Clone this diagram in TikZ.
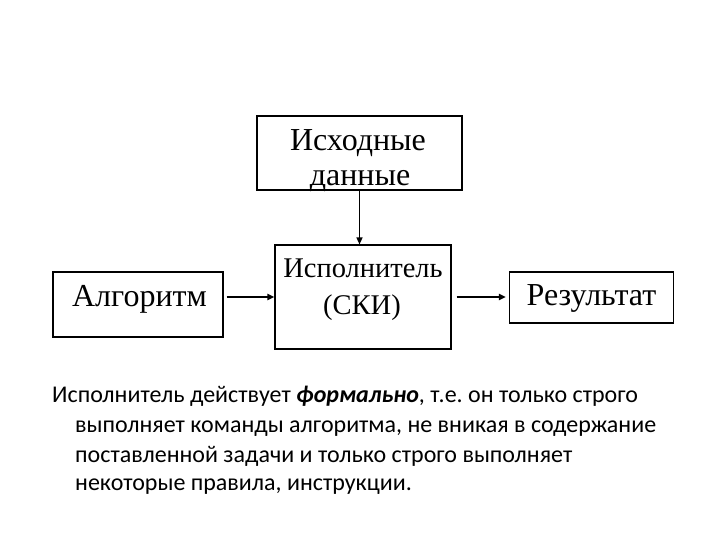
\documentclass[tikz,border=0pt]{standalone}
\usepackage{fontspec}
\setmainfont{Liberation Serif}
\newfontfamily\bodyfont{Carlito}
\usetikzlibrary{arrows.meta}
\frenchspacing
\begin{document}
\begin{tikzpicture}[x=1pt,y=-1pt,
  boxnode/.style={draw=black,line width=1.1pt,inner sep=0pt,rectangle},
  boxtext/.style={anchor=base,inner sep=0pt,font=\fontsize{32}{34}\selectfont},
  smalltext/.style={anchor=base,inner sep=0pt,font=\fontsize{28.5}{30}\selectfont},
  bodyline/.style={anchor=base west,inner sep=0pt,font=\bodyfont\fontsize{24}{29}\selectfont},
  arr/.style={line width=1.3pt,-{Triangle[length=7pt,width=6pt]}},
  harr/.style={arr,line width=1.8pt}]
\useasboundingbox (0,0) rectangle (720,540);
% boxes
\node[boxnode,minimum width=205pt,minimum height=74pt] (src) at (359.5,153) {};
\node[boxnode,minimum width=176pt,minimum height=104pt] (exec) at (363,297) {};
\node[boxnode,minimum width=170pt,minimum height=65pt] (alg) at (138,304.5) {};
\node[boxnode,minimum width=164pt,minimum height=51pt] (res) at (591.5,297.5) {};
% box texts
\node[boxtext] (srcA) at (358,151) {Исходные};
\node[boxtext] (srcB) at (360,186) {данные};
\node[smalltext] (execA) at (363,277) {Исполнитель};
\node[smalltext] (execB) at (362,314) {(СКИ)};
\node[boxtext] (algT) at (139.5,306.5) {Алгоритм};
\node[boxtext] (resT) at (591.5,305) {Результат};
% connectors
\draw[arr] (src.south) -- (src.south |- exec.north);
\draw[harr] ([xshift=3pt]alg.east |- exec.west) -- (exec.west);
\draw[harr] ([xshift=5pt]exec.east) -- ([xshift=-3pt]res.west |- exec.east);
% body text
\node[bodyline] (l1) at (52,402) {Исполнитель действует \textbf{\textit{формально}}, т.е. он только строго};
\node[bodyline] (l2) at (75,432) {выполняет команды алгоритма, не вникая в содержание};
\node[bodyline] (l3) at (75,462) {поставленной задачи и только строго выполняет};
\node[bodyline] (l4) at (75,490) {некоторые правила, инструкции.};
\end{tikzpicture}
\end{document}
